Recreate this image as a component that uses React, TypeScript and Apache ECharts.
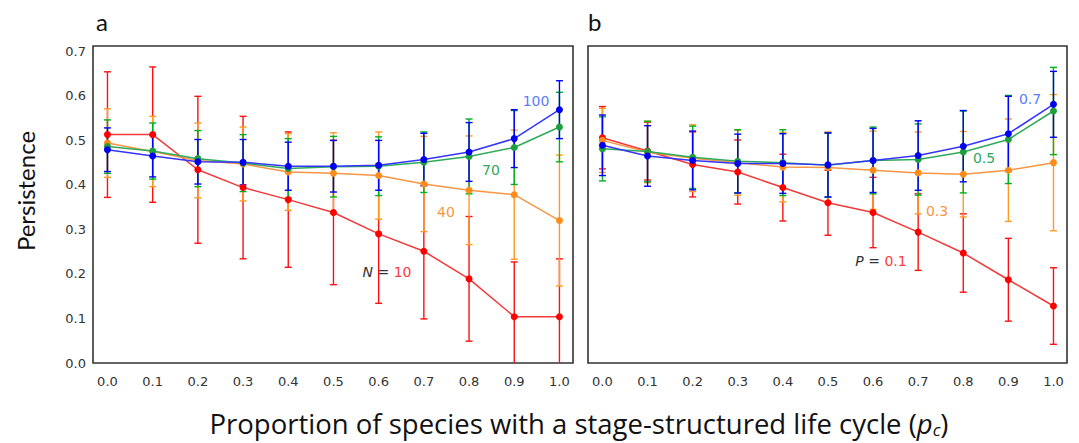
import React, { useEffect, useRef } from "react";
import * as echarts from "echarts";

const X = [0, 0.1, 0.2, 0.3, 0.4, 0.5, 0.6, 0.7, 0.8, 0.9, 1.0];
const Y_TICKS = [0, 0.1, 0.2, 0.3, 0.4, 0.5, 0.6, 0.7];

// Panel a (N = 10, 40, 70, 100)
const aRedMean = [0.513, 0.513, 0.434, 0.394, 0.367, 0.338, 0.29, 0.251, 0.189, 0.104, 0.104];
const aRedErr = [0.141, 0.152, 0.165, 0.16, 0.152, 0.162, 0.156, 0.152, 0.14, 0.123, 0.13];
const aOrangeMean = [0.494, 0.475, 0.455, 0.447, 0.429, 0.426, 0.421, 0.402, 0.388, 0.378, 0.32];
const aOrangeErr = [0.077, 0.079, 0.084, 0.083, 0.086, 0.091, 0.098, 0.107, 0.122, 0.145, 0.147];
const aGreenMean = [0.486, 0.476, 0.459, 0.449, 0.437, 0.441, 0.442, 0.451, 0.464, 0.484, 0.53];
const aGreenErr = [0.06, 0.063, 0.063, 0.064, 0.067, 0.068, 0.066, 0.068, 0.084, 0.083, 0.078];
const aBlueMean = [0.479, 0.465, 0.452, 0.451, 0.442, 0.442, 0.444, 0.457, 0.474, 0.504, 0.569];
const aBlueErr = [0.049, 0.047, 0.05, 0.051, 0.054, 0.058, 0.056, 0.059, 0.066, 0.065, 0.065];

// Panel b (P = 0.1, 0.3, 0.5, 0.7)
const bRedMean = [0.506, 0.476, 0.446, 0.429, 0.394, 0.36, 0.338, 0.294, 0.247, 0.187, 0.128];
const bRedErr = [0.07, 0.065, 0.073, 0.072, 0.075, 0.073, 0.079, 0.086, 0.088, 0.093, 0.086];
const bOrangeMean = [0.5, 0.474, 0.46, 0.45, 0.44, 0.439, 0.433, 0.427, 0.424, 0.433, 0.45];
const bOrangeErr = [0.072, 0.069, 0.075, 0.073, 0.078, 0.08, 0.088, 0.092, 0.096, 0.115, 0.153];
const bGreenMean = [0.481, 0.475, 0.462, 0.453, 0.45, 0.444, 0.455, 0.457, 0.474, 0.502, 0.566];
const bGreenErr = [0.072, 0.068, 0.07, 0.071, 0.074, 0.072, 0.075, 0.08, 0.092, 0.099, 0.098];
const bBlueMean = [0.489, 0.465, 0.455, 0.448, 0.448, 0.445, 0.455, 0.466, 0.487, 0.515, 0.581];
const bBlueErr = [0.068, 0.068, 0.066, 0.066, 0.067, 0.072, 0.072, 0.078, 0.08, 0.084, 0.074];

const COLORS = {
  red: { bar: "#ff1010", line: "#f23a3a", dot: "#ff0000" },
  orange: { bar: "#ff9a22", line: "#f79646", dot: "#ff8c1a" },
  green: { bar: "#00b020", line: "#2eaa5a", dot: "#1e9e3c" },
  blue: { bar: "#0000ff", line: "#3535ff", dot: "#0000ee" },
};

function errSeries(idx: number, mean: number[], err: number[], color: string) {
  return {
    type: "custom",
    xAxisIndex: idx,
    yAxisIndex: idx,
    clip: true,
    silent: true,
    data: X.map((x, i) => [x, mean[i], err[i]]),
    renderItem: (params: any, api: any) => {
      const x = api.value(0);
      const m = api.value(1);
      const e = api.value(2);
      const top = api.coord([x, m + e]);
      const bot = api.coord([x, m - e]);
      const w = 3.5;
      const style = { stroke: color, lineWidth: 1.4 };
      return {
        type: "group",
        children: [
          { type: "line", shape: { x1: top[0], y1: top[1], x2: bot[0], y2: bot[1] }, style },
          { type: "line", shape: { x1: top[0] - w, y1: top[1], x2: top[0] + w, y2: top[1] }, style },
          { type: "line", shape: { x1: bot[0] - w, y1: bot[1], x2: bot[0] + w, y2: bot[1] }, style },
        ],
      };
    },
  };
}

function lineSeries(idx: number, mean: number[], c: { line: string; dot: string }) {
  return {
    type: "line",
    xAxisIndex: idx,
    yAxisIndex: idx,
    silent: true,
    data: X.map((x, i) => [x, mean[i]]),
    symbol: "circle",
    symbolSize: 7,
    lineStyle: { color: c.line, width: 1.5 },
    itemStyle: { color: c.dot },
  };
}

function panelSeries(idx: number, sets: [number[], number[], keyof typeof COLORS][]) {
  const out: any[] = [];
  sets.forEach(([m, e, k]) => {
    out.push(errSeries(idx, m, e, COLORS[k].bar));
    out.push(lineSeries(idx, m, COLORS[k]));
  });
  return out;
}

const tickFont = { color: "#333", fontFamily: "DejaVu Sans", fontSize: 13 };
const titleFont = "Lato";
const xTitleFont = "Open Sans";
const labelFont = "DejaVu Sans";

export default function App() {
  const ref = useRef<HTMLDivElement>(null);
  useEffect(() => {
    if (!ref.current) return;
    const chart = echarts.init(ref.current, null, { renderer: "svg" });
    const gridBase = {
      top: 46,
      height: 317,
      show: true,
      borderColor: "#333",
      borderWidth: 1.6,
      backgroundColor: "transparent",
    };
    const xAxisBase = {
      type: "value",
      min: -0.032,
      max: 1.03,
      axisLine: { show: false },
      axisTick: { show: false },
      splitLine: { show: false },
      axisLabel: {
        ...tickFont,
        margin: 12,
        customValues: X,
        formatter: (v: number) => v.toFixed(1),
      },
    };
    const yAxisBase = {
      type: "value",
      min: 0,
      max: 0.712,
      axisLine: { show: false },
      axisTick: { show: false },
      splitLine: { show: false },
    };
    const option: any = {
      animation: false,
      backgroundColor: "#fff",
      grid: [
        { ...gridBase, left: 93, width: 480 },
        { ...gridBase, left: 588, width: 479 },
      ],
      xAxis: [
        { ...xAxisBase, gridIndex: 0 },
        { ...xAxisBase, gridIndex: 1 },
      ],
      yAxis: [
        {
          ...yAxisBase,
          gridIndex: 0,
          axisLabel: {
            ...tickFont,
            margin: 7,
            customValues: Y_TICKS,
            formatter: (v: number) => v.toFixed(1),
          },
        },
        { ...yAxisBase, gridIndex: 1, axisLabel: { show: false } },
      ],
      series: [
        ...panelSeries(0, [
          [aRedMean, aRedErr, "red"],
          [aOrangeMean, aOrangeErr, "orange"],
          [aGreenMean, aGreenErr, "green"],
          [aBlueMean, aBlueErr, "blue"],
        ]),
        ...panelSeries(1, [
          [bRedMean, bRedErr, "red"],
          [bOrangeMean, bOrangeErr, "orange"],
          [bGreenMean, bGreenErr, "green"],
          [bBlueMean, bBlueErr, "blue"],
        ]),
      ],
      graphic: [
        { type: "text", x: 96, y: 21, style: { text: "a", fontFamily: titleFont, fontSize: 24, fill: "#111", align: "left", verticalAlign: "middle" } },
        { type: "text", x: 588, y: 21, style: { text: "b", fontFamily: titleFont, fontSize: 24, fill: "#111", align: "left", verticalAlign: "middle" } },
        {
          type: "text",
          x: 25,
          y: 191,
          rotation: Math.PI / 2,
          style: { text: "Persistence", fontFamily: titleFont, fontSize: 24, fill: "#111", align: "center", verticalAlign: "middle" },
        },
        {
          type: "text",
          x: 579,
          y: 423,
          style: {
            text: "Proportion of species with a stage-structured life cycle ({i|p}{sub|c})",
            fontFamily: xTitleFont,
            fontSize: 27.5,
            lineHeight: 30,
            fill: "#111",
            align: "center",
            verticalAlign: "middle",
            rich: {
              i: { fontFamily: xTitleFont, fontSize: 27.5, lineHeight: 30, fontStyle: "italic", fill: "#111" },
              sub: { fontFamily: xTitleFont, fontSize: 17, lineHeight: 10, fontStyle: "italic", verticalAlign: "bottom", fill: "#111" },
            },
          },
        },
        // panel a annotations
        { type: "text", x: 536, y: 101, style: { text: "100", fontFamily: labelFont, fontSize: 14, fill: "#5b7cff", align: "center", verticalAlign: "middle" } },
        { type: "text", x: 491, y: 170, style: { text: "70", fontFamily: labelFont, fontSize: 14, fill: "#2ea860", align: "center", verticalAlign: "middle" } },
        { type: "text", x: 446, y: 212, style: { text: "40", fontFamily: labelFont, fontSize: 14, fill: "#f79646", align: "center", verticalAlign: "middle" } },
        {
          type: "text",
          x: 387,
          y: 272,
          style: {
            text: "{k|N} {k|=} {v|10}",
            fontFamily: labelFont,
            fontSize: 14,
            align: "center",
            verticalAlign: "middle",
            rich: {
              k: { fontFamily: labelFont, fontSize: 14, fill: "#333", fontStyle: "italic" },
              v: { fontFamily: labelFont, fontSize: 14, fill: "#ff3b3b" },
            },
          },
        },
        // panel b annotations
        { type: "text", x: 1030, y: 99, style: { text: "0.7", fontFamily: labelFont, fontSize: 14, fill: "#5b7cff", align: "center", verticalAlign: "middle" } },
        { type: "text", x: 984, y: 158, style: { text: "0.5", fontFamily: labelFont, fontSize: 14, fill: "#2ea860", align: "center", verticalAlign: "middle" } },
        { type: "text", x: 937, y: 211, style: { text: "0.3", fontFamily: labelFont, fontSize: 14, fill: "#f79646", align: "center", verticalAlign: "middle" } },
        {
          type: "text",
          x: 881,
          y: 261,
          style: {
            text: "{k|P} {k|=} {v|0.1}",
            fontFamily: labelFont,
            fontSize: 14,
            align: "center",
            verticalAlign: "middle",
            rich: {
              k: { fontFamily: labelFont, fontSize: 14, fill: "#333", fontStyle: "italic" },
              v: { fontFamily: labelFont, fontSize: 14, fill: "#ff3b3b" },
            },
          },
        },
      ],
    };
    chart.setOption(option);
    return () => chart.dispose();
  }, []);
  return (
    <div
      ref={ref}
      style={{ position: "absolute", left: 0, top: 0, width: 1079, height: 443, background: "#fff" }}
    />
  );
}
